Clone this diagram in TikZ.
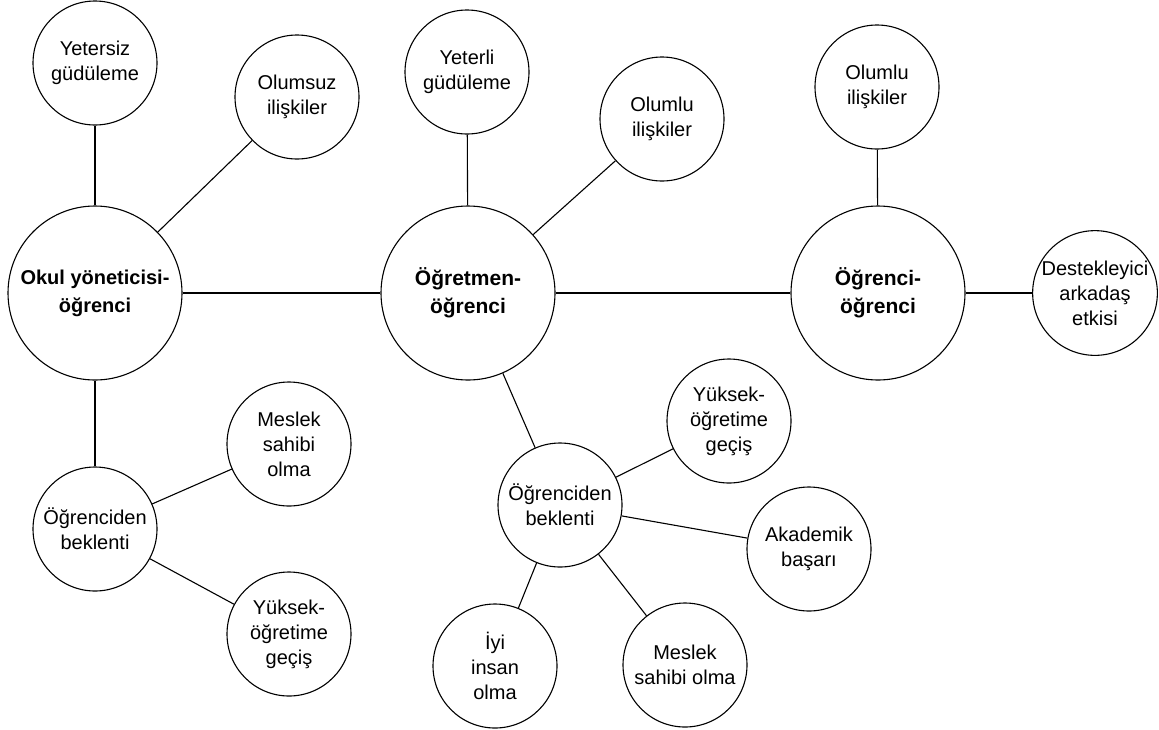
\documentclass[tikz,border=0pt]{standalone}
\usepackage{fontspec}
\setmainfont{Liberation Sans}
\begin{document}
\begin{tikzpicture}[x=1pt,y=1pt]
\tikzstyle{every node}+=[inner sep=0pt]
\tikzstyle{topic}=[draw=black,circle,line width=1.1pt,minimum size=124pt,align=center,font=\fontsize{20}{25}\selectfont]
\tikzstyle{hub}=[topic,minimum size=174pt,font=\bfseries\fontsize{21}{28}\selectfont]
\tikzstyle{link}=[black,line width=1.1pt]
\fill [white] (0,0) rectangle (1159,-729);
\useasboundingbox (0,0) rectangle (1159,-729);
\node [hub,font=\bfseries\fontsize{20}{28}\selectfont] (okul) at (95,-293) {Okul yöneticisi-\\öğrenci};
\node [hub] (ogretmen) at (468,-293) {Öğretmen-\\öğrenci};
\node [hub] (ogrenci) at (878,-293) {Öğrenci-\\öğrenci};
\node [topic] (yetersiz) at (95,-63) {Yetersiz\\güdüleme};
\node [topic] (olumsuz) at (297,-97) {Olumsuz\\ilişkiler};
\node [topic] (beklentiA) at (95,-529) {Öğrenciden\\beklenti};
\node [topic] (meslekA) at (289,-444) {Meslek\\sahibi\\olma};
\node [topic] (yuksekA) at (289,-634) {Yüksek-\\öğretime\\geçiş};
\node [topic] (yeterli) at (467,-72) {Yeterli\\güdüleme};
\node [topic] (olumluA) at (662,-119) {Olumlu\\ilişkiler};
\node [topic] (beklentiB) at (560,-505) {Öğrenciden\\beklenti};
\node [topic] (yuksekB) at (729,-421) {Yüksek-\\öğretime\\geçiş};
\node [topic] (akademik) at (809,-549) {Akademik\\başarı};
\node [topic] (iyi) at (495,-666) {İyi\\insan\\olma};
\node [topic] (meslekB) at (685,-665) {Meslek\\sahibi olma};
\node [topic] (olumluB) at (877,-87) {Olumlu\\ilişkiler};
\node [topic] (destek) at (1095,-293) {Destekleyici\\arkadaş\\etkisi};
\draw [link] (okul) -- (ogretmen);
\draw [link] (ogretmen) -- (ogrenci);
\draw [link] (okul) -- (yetersiz);
\draw [link] (okul) -- (olumsuz);
\draw [link] (okul) -- (beklentiA);
\draw [link] (beklentiA) -- (meslekA);
\draw [link] (beklentiA) -- (yuksekA);
\draw [link] (ogretmen) -- (yeterli);
\draw [link] (ogretmen) -- (olumluA);
\draw [link] (ogretmen) -- (beklentiB);
\draw [link] (beklentiB) -- (yuksekB);
\draw [link] (beklentiB) -- (akademik);
\draw [link] (beklentiB) -- (iyi);
\draw [link] (beklentiB) -- (meslekB);
\draw [link] (ogrenci) -- (olumluB);
\draw [link] (ogrenci) -- (destek);
\end{tikzpicture}
\end{document}
